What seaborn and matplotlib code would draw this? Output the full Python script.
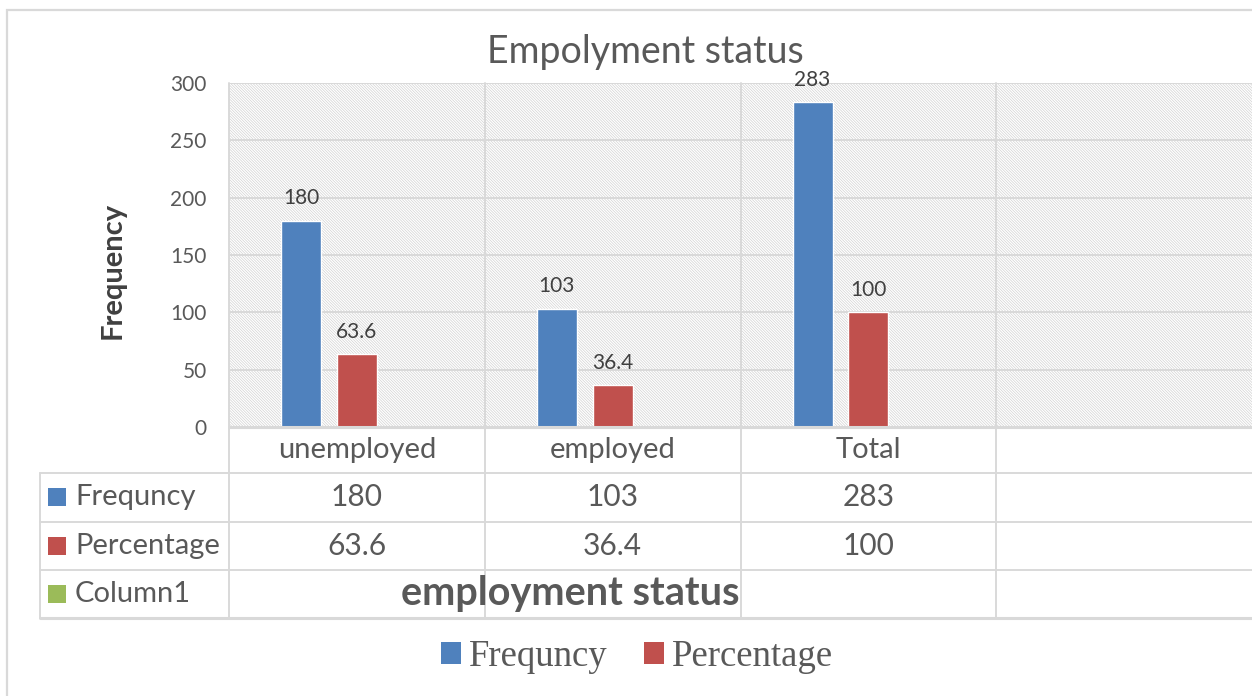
import numpy as np
import pandas as pd
import matplotlib.pyplot as plt
import matplotlib.transforms as mtransforms
from matplotlib.patches import Rectangle, Patch
from matplotlib.lines import Line2D
import seaborn as sns

# data
categories  = ["unemployed", "employed", "Total", ""]
series      = ["Frequncy", "Percentage", "Column1"]
frequency   = [180, 103, 283, np.nan]
percentage  = [63.6, 36.4, 100, np.nan]
column1     = [np.nan, np.nan, np.nan, np.nan]
colors      = ["#4F81BD", "#C0504D", "#9BBB59"]
y_ticks     = [0, 50, 100, 150, 200, 250, 300]

W, H = 1252, 696
TXT  = "#595959"
GRID = "#d9d9d9"

sns.set_style("white")
plt.rcParams["font.family"] = ["Lato", "DejaVu Sans"]
plt.rcParams["hatch.linewidth"] = 0.5

rows = []
for name, vals in zip(series, [frequency, percentage, column1]):
    for cat, v in zip(categories, vals):
        rows.append({"category": cat, "series": name, "value": v})
df = pd.DataFrame(rows)

fig = plt.figure(figsize=(W / 100, H / 100), dpi=100)


def fx(px):
    return px / W


def fy(py):
    return 1 - py / H


ax = fig.add_axes([fx(229), fy(427), fx(1252) - fx(229), fy(83) - fy(427)])

# hatched plot background
ax.add_patch(Rectangle((0, 0), 1, 1, transform=ax.transAxes, facecolor="white",
                       edgecolor="#d2d2d2", hatch="\\" * 12, linewidth=0, zorder=0))

sns.barplot(data=df, x="category", y="value", hue="series", order=categories,
            hue_order=series, palette=colors, width=0.654, gap=0.286,
            saturation=1, legend=False, ax=ax, zorder=3)

for cont in ax.containers:
    if len(cont) and all(b is not None for b in cont):
        ax.bar_label(cont, fmt="{:g}", padding=9, fontsize=15, color="#404040")

ax.set_xlim(-0.5, len(categories) - 0.5)
ax.set_ylim(0, 300)
ax.set_yticks(y_ticks)
ax.yaxis.grid(True, color=GRID, linewidth=1.4, zorder=1)
ax.set_axisbelow(True)
ax.tick_params(axis="x", length=0, labelbottom=False)
ax.tick_params(axis="y", length=0, pad=16, labelsize=15, labelcolor=TXT)
ax.set_xlabel("")
ax.set_ylabel("")
for s in ax.spines.values():
    s.set_visible(False)

# vertical category separators through plot and table
blend = mtransforms.blended_transform_factory(ax.transData, fig.transFigure)
for i in range(len(categories)):
    xb = i - 0.5
    fig.add_artist(Line2D([xb, xb], [fy(83), fy(618)], transform=blend,
                          color=GRID, linewidth=1.4, zorder=1))
    if i > 0:
        ax.axvline(xb, color=GRID, linewidth=1.4, zorder=1)

# data table
row_lines = [427, 473, 522, 570, 618]
for k, py in enumerate(row_lines):
    x0 = 229 if k == 0 else 40
    fig.add_artist(Line2D([fx(x0), 1], [fy(py), fy(py)], color=GRID,
                          linewidth=2.2 if k in (0, 4) else 1.4))
fig.add_artist(Line2D([fx(40), fx(40)], [fy(473), fy(618)], color=GRID, linewidth=1.4))

for i, cat in enumerate(categories):
    fig.text(i, fy(450), cat, transform=blend, ha="center", va="center",
             fontsize=21, color=TXT)
    for vals, py in [(frequency, 497), (percentage, 546)]:
        v = vals[i]
        if not np.isnan(v):
            fig.text(i, fy(py), f"{v:g}", transform=blend, ha="center",
                     va="center", fontsize=21.5, color=TXT)

for name, col, py in zip(series, colors, [497, 546, 594]):
    fig.add_artist(Rectangle((fx(48), fy(py + 9)), fx(18), fy(py - 9) - fy(py + 9),
                             transform=fig.transFigure, facecolor=col, edgecolor="none"))
    fig.text(fx(75), fy(py), name, ha="left", va="center", fontsize=21, color=TXT)

fig.text(fx(570), fy(594), "employment status", ha="center", va="center",
         fontsize=28.5, fontweight="bold", color=TXT)

# titles
fig.text(fx(645), fy(52), "Empolyment status", ha="center", va="center",
         fontsize=27, color=TXT)
fig.text(fx(113), fy(270), "Frequency", ha="center", va="center", rotation=90,
         fontsize=21, fontweight="bold", color="#404040")

# legend
handles = [Patch(facecolor=c, edgecolor="none") for c in colors[:2]]
leg = fig.legend(handles, series[:2], loc="center", bbox_to_anchor=(fx(637), fy(657)),
                 ncol=2, frameon=False, handlelength=0.55, handleheight=0.55,
                 handletextpad=0.2, columnspacing=1.0,
                 prop={"family": "Liberation Serif", "size": 26.5})
for t in leg.get_texts():
    t.set_color(TXT)

# outer chart border
fig.add_artist(Rectangle((fx(7), fy(710)), fx(1270) - fx(7), fy(10) - fy(710),
                         transform=fig.transFigure, facecolor="none",
                         edgecolor=GRID, linewidth=1.6))

plt.savefig("out.png", dpi=100)
plt.close()
